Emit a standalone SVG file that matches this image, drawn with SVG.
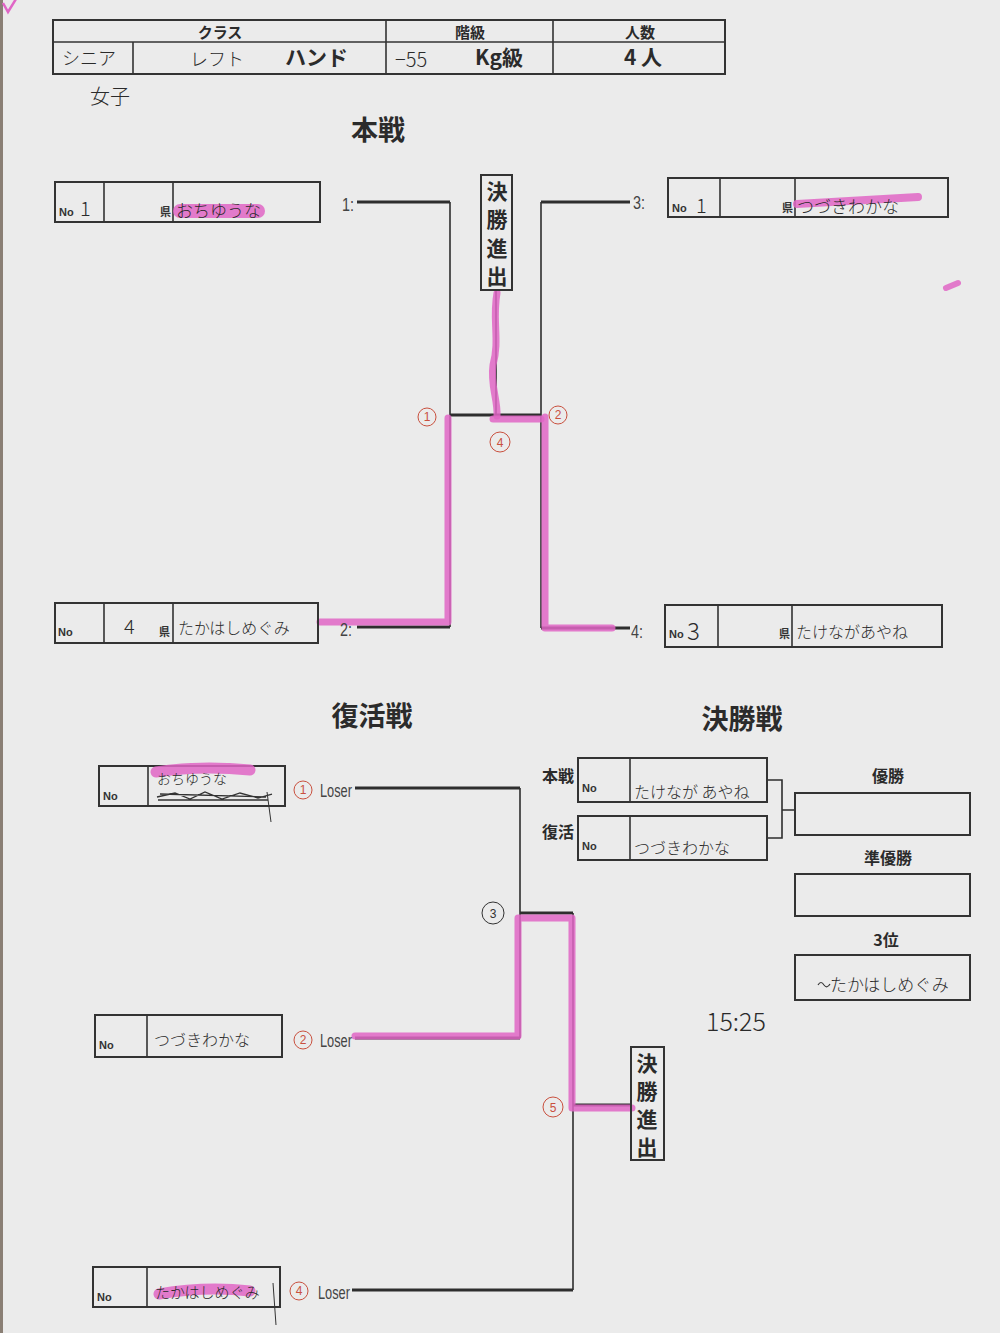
<svg xmlns="http://www.w3.org/2000/svg" width="1000" height="1333" viewBox="0 0 1000 1333">
<defs>
<style>
.bx{fill:none;stroke:#333;stroke-width:2}
.dv{stroke:#333;stroke-width:1.6}
.pt{font-family:"Noto Sans CJK JP","Liberation Sans",sans-serif;font-weight:bold;fill:#2b2b2b}
.hw{font-family:"Noto Sans CJK JP","Liberation Sans",sans-serif;font-weight:300;fill:#2a2a2a}
.no{font-family:"Liberation Sans","Noto Sans CJK JP",sans-serif;font-weight:bold;font-size:11px;fill:#333}
.ken{font-family:"Noto Sans CJK JP",sans-serif;font-weight:bold;font-size:11px;fill:#333;text-anchor:end}
.lb{font-family:"Liberation Sans","Noto Sans CJK JP",sans-serif;font-size:18px;fill:#444}
.ttl{font-family:"Noto Sans CJK JP",sans-serif;font-weight:bold;font-size:27px;fill:#2b2b2b;text-anchor:middle}
.sm{font-family:"Noto Sans CJK JP",sans-serif;font-weight:bold;font-size:16px;fill:#2b2b2b;text-anchor:middle}
.vt{font-family:"Noto Sans CJK JP",sans-serif;font-weight:bold;font-size:21px;fill:#2b2b2b;text-anchor:middle}
.hl{fill:none;stroke:#e066c6;stroke-opacity:0.85;stroke-linecap:round;stroke-linejoin:round}
.ln{fill:none;stroke:#2e2e2e;stroke-width:1.6}
.lh{fill:none;stroke:#2e2e2e;stroke-width:3}
.rc{fill:none;stroke:#c9503e;stroke-width:1}
.rt{font-family:"Liberation Sans",sans-serif;font-size:12px;fill:#c9503e;text-anchor:middle}
</style>
</defs>
<rect x="0" y="0" width="1000" height="1333" fill="#ebebeb"/>
<rect x="0" y="0" width="3" height="1333" fill="#8a7f75"/>
<path d="M3,3 L8,12 L16,-1" fill="none" stroke="#e066c6" stroke-width="2.5"/>

<g id="header">
<rect class="bx" x="53" y="20" width="672" height="54"/>
<line class="dv" x1="53" y1="42" x2="725" y2="42"/>
<line class="dv" x1="386" y1="20" x2="386" y2="74"/>
<line class="dv" x1="553" y1="20" x2="553" y2="74"/>
<line class="dv" x1="133" y1="42" x2="133" y2="74"/>
<text class="pt" x="220" y="38" font-size="15" text-anchor="middle">クラス</text>
<text class="pt" x="470" y="38" font-size="15" text-anchor="middle">階級</text>
<text class="pt" x="640" y="38" font-size="15" text-anchor="middle">人数</text>
<text class="hw" x="62" y="65" font-size="18">シニア</text>
<text class="hw" x="190" y="66" font-size="18">レフト</text>
<text class="pt" x="285" y="65" font-size="21">ハンド</text>
<text class="hw" x="395" y="67" font-size="20">−55</text>
<text class="pt" x="475" y="65" font-size="21">Kg級</text>
<text class="pt" x="643" y="65" font-size="21" text-anchor="middle">4 人</text>
<text class="hw" x="90" y="104" font-size="20">女子</text>
</g>

<text class="ttl" x="378" y="140">本戦</text>
<text class="ttl" x="372" y="726">復活戦</text>
<text class="ttl" x="742" y="729">決勝戦</text>

<g id="connectors">
<path class="ln" d="M450,202 V627"/>
<path class="lh" d="M357,202 H450"/>
<path class="lh" d="M357,627 H450"/>
<path class="ln" d="M541,202 V628"/>
<path class="lh" d="M541,202 H630"/>
<path class="lh" d="M541,628 H630"/>
<path class="lh" d="M450,415 H541"/>
<path class="ln" d="M496,290 V415"/>
<path class="ln" d="M520,788 V1038"/>
<path class="lh" d="M355,788 H520"/>
<path class="lh" d="M355,1038 H520"/>
<path class="lh" d="M520,913 H573"/>
<path class="ln" d="M573,913 V1290"/>
<path class="lh" d="M352,1290 H573"/>
<path class="lh" d="M573,1105 H632"/>
<path class="ln" d="M767,780 H782 V838 H767 M782,810 H795"/>
</g>

<g id="highlights">
<path class="hl" stroke-width="7" d="M497,293 C492,320 500,340 493,365 C490,385 498,400 497,416"/>
<path class="hl" stroke-width="7" d="M493,419 H541"/>
<path class="hl" stroke-width="7" d="M545,417 V628 H612"/>
<path class="hl" stroke-width="7" d="M448,418 V622 H320"/>
<path class="hl" stroke-width="7" d="M355,1036 H518 V918 H572 V1108 H632"/>
<path class="hl" stroke-width="6" d="M946,288 L958,283"/>
</g>

<g id="marks">
<circle class="rc" cx="427" cy="417" r="9"/><text class="rt" x="427" y="421">1</text>
<circle class="rc" cx="558" cy="415" r="9"/><text class="rt" x="558" y="419">2</text>
<circle class="rc" cx="500" cy="442" r="10"/><text class="rt" x="500" y="447">4</text>
<circle fill="none" stroke="#333" stroke-width="1" cx="493" cy="913" r="11"/><text class="rt" x="493" y="918" style="fill:#333">3</text>
<circle class="rc" cx="553" cy="1107" r="10"/><text class="rt" x="553" y="1112">5</text>
</g>

<g id="entry-1">
<rect class="bx" x="55" y="182" width="265" height="40"/>
<line class="dv" x1="104" y1="182" x2="104" y2="222"/>
<line class="dv" x1="173" y1="182" x2="173" y2="222"/>
<text class="no" x="59" y="216">No</text>
<text class="hw" x="80" y="216" font-size="20">1</text>
<text class="ken" x="171" y="216">県</text>
<path class="hl" stroke-width="14" d="M180,211 H258"/>
<text class="hw" x="176" y="217" font-size="17">おちゆうな</text>
<text class="lb" x="342" y="211" textLength="12" lengthAdjust="spacingAndGlyphs">1:</text>
</g>

<g id="entry-2">
<rect class="bx" x="55" y="603" width="263" height="40"/>
<line class="dv" x1="104" y1="603" x2="104" y2="643"/>
<line class="dv" x1="173" y1="603" x2="173" y2="643"/>
<text class="no" x="58" y="636">No</text>
<text class="hw" x="124" y="634" font-size="20">4</text>
<text class="ken" x="170" y="636">県</text>
<text class="hw" x="178" y="634" font-size="16">たかはしめぐみ</text>
<text class="lb" x="340" y="636" textLength="12" lengthAdjust="spacingAndGlyphs">2:</text>
</g>

<g id="entry-3">
<rect class="bx" x="668" y="178" width="280" height="39"/>
<line class="dv" x1="720" y1="178" x2="720" y2="217"/>
<line class="dv" x1="795" y1="178" x2="795" y2="217"/>
<text class="no" x="672" y="212">No</text>
<text class="hw" x="696" y="213" font-size="20">1</text>
<text class="ken" x="793" y="212">県</text>
<path class="hl" stroke-width="8" d="M797,204 L918,197"/>
<text class="hw" x="797" y="213" font-size="17">つづきわかな</text>
<text class="lb" x="633" y="209" textLength="12" lengthAdjust="spacingAndGlyphs">3:</text>
</g>

<g id="entry-4">
<rect class="bx" x="665" y="605" width="277" height="42"/>
<line class="dv" x1="718" y1="605" x2="718" y2="647"/>
<line class="dv" x1="792" y1="605" x2="792" y2="647"/>
<text class="no" x="669" y="638">No</text>
<text class="hw" x="687" y="640" font-size="24">3</text>
<text class="ken" x="790" y="638">県</text>
<text class="hw" x="796" y="638" font-size="16">たけながあやね</text>
<text class="lb" x="631" y="638" textLength="12" lengthAdjust="spacingAndGlyphs">4:</text>
</g>

<g id="finalist-1">
<rect class="bx" x="481" y="175" width="31" height="115"/>
<text class="vt" x="497" y="199">決</text>
<text class="vt" x="497" y="227">勝</text>
<text class="vt" x="497" y="256">進</text>
<text class="vt" x="497" y="284">出</text>
</g>

<g id="rep-1">
<rect class="bx" x="99" y="766" width="186" height="40"/>
<line class="dv" x1="148" y1="766" x2="148" y2="806"/>
<text class="no" x="103" y="800">No</text>
<path class="hl" stroke-width="11" d="M156,772 Q200,765 250,770"/>
<text class="hw" x="157" y="784" font-size="14">おちゆうな</text>
<path d="M157,797 L175,793 L190,799 L205,792 L222,799 L240,793 L258,798 L272,794 M158,800 H268 M160,794 L266,797" fill="none" stroke="#333" stroke-width="1.3"/>
<path d="M267,792 L271,822" fill="none" stroke="#333" stroke-width="1"/>
<circle class="rc" cx="303" cy="790" r="9"/><text class="rt" x="303" y="794">1</text>
<text class="lb" x="320" y="797" textLength="32" lengthAdjust="spacingAndGlyphs">Loser</text>
</g>

<g id="rep-2">
<rect class="bx" x="95" y="1015" width="187" height="42"/>
<line class="dv" x1="147" y1="1015" x2="147" y2="1057"/>
<text class="no" x="99" y="1049">No</text>
<text class="hw" x="154" y="1046" font-size="16">つづきわかな</text>
<circle class="rc" cx="303" cy="1040" r="9"/><text class="rt" x="303" y="1044">2</text>
<text class="lb" x="320" y="1047" textLength="32" lengthAdjust="spacingAndGlyphs">Loser</text>
</g>

<g id="rep-3">
<rect class="bx" x="93" y="1267" width="187" height="40"/>
<line class="dv" x1="147" y1="1267" x2="147" y2="1307"/>
<text class="no" x="97" y="1301">No</text>
<path class="hl" stroke-width="11" d="M159,1294 Q205,1286 250,1291"/>
<text class="hw" x="155" y="1298" font-size="15">たかはしめぐみ</text>
<path d="M273,1283 L276,1325" fill="none" stroke="#333" stroke-width="1"/>
<circle class="rc" cx="299" cy="1291" r="9"/><text class="rt" x="299" y="1295">4</text>
<text class="lb" x="318" y="1299" textLength="32" lengthAdjust="spacingAndGlyphs">Loser</text>
</g>

<g id="finalist-2">
<rect class="bx" x="631" y="1047" width="33" height="113"/>
<text class="vt" x="647" y="1071">決</text>
<text class="vt" x="647" y="1099">勝</text>
<text class="vt" x="647" y="1127">進</text>
<text class="vt" x="647" y="1155">出</text>
</g>

<g id="final-1">
<text class="sm" x="558" y="782">本戦</text>
<rect class="bx" x="578" y="758" width="189" height="44"/>
<line class="dv" x1="630" y1="758" x2="630" y2="802"/>
<text class="no" x="582" y="792">No</text>
<text class="hw" x="634" y="798" font-size="16">たけなが あやね</text>
</g>

<g id="final-2">
<text class="sm" x="558" y="838">復活</text>
<rect class="bx" x="578" y="816" width="189" height="44"/>
<line class="dv" x1="630" y1="816" x2="630" y2="860"/>
<text class="no" x="582" y="850">No</text>
<text class="hw" x="634" y="854" font-size="16">つづきわかな</text>
</g>

<g id="winner">
<text class="sm" x="888" y="782">優勝</text>
<rect class="bx" x="795" y="793" width="175" height="42"/>
</g>

<g id="runner-up">
<text class="sm" x="888" y="864">準優勝</text>
<rect class="bx" x="795" y="874" width="175" height="42"/>
</g>

<g id="third">
<text class="sm" x="886" y="946">3位</text>
<rect class="bx" x="795" y="955" width="175" height="45"/>
<path d="M818,985 q3,-5 6,0 q3,4 6,-1" fill="none" stroke="#333" stroke-width="1.2"/>
<text class="hw" x="830" y="991" font-size="17">たかはしめぐみ</text>
<text class="hw" x="706" y="1031" font-size="25">15:25</text>
</g>
</svg>
